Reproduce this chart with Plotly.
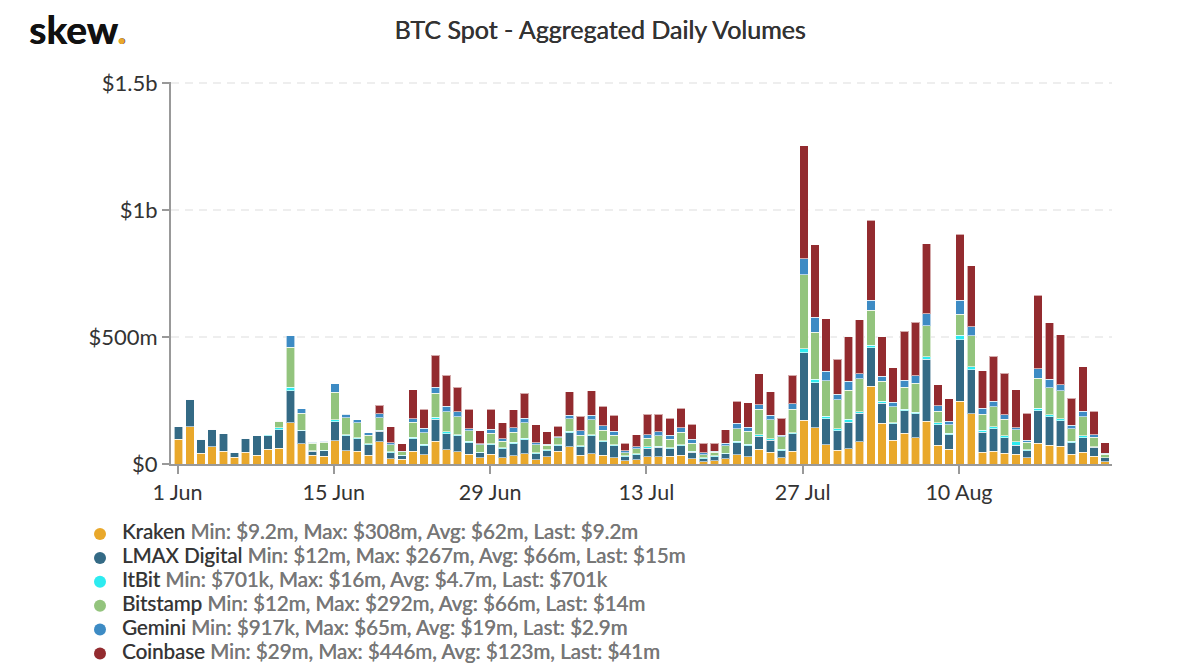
import pandas as pd
import plotly.graph_objs as go

# Daily volumes in $m (0 = exchange not shown yet)
dates = pd.date_range("2020-06-01", periods=84, freq="D")

kraken = [97, 146, 42, 67, 50, 26, 47, 35, 58, 62, 163, 79, 34, 31, 91, 52, 51, 34, 87, 21, 18,
          50, 37, 89, 56, 49, 38, 24, 38, 25, 33, 41, 16, 29, 51, 68, 34, 41, 35, 25, 12, 16,
          28, 28, 30, 35, 20, 9, 12, 20, 37, 29, 59, 47, 24, 51, 173, 143, 75, 55, 60, 87,
          307, 160, 93, 121, 104, 169, 73, 58, 247, 198, 46, 51, 42, 38, 24, 81, 73, 70, 39, 47, 31, 9.2]
lmax = [49, 109, 55, 70, 70, 21, 55, 77, 54, 73, 126, 51, 16, 21, 76, 59, 49, 42, 41, 24, 14,
        50, 35, 87, 63, 63, 46, 20, 38, 35, 47, 55, 25, 24, 21, 55, 34, 71, 52, 47, 17, 21,
        35, 37, 30, 37, 26, 12, 17, 20, 47, 43, 51, 47, 29, 68, 265, 177, 104, 76, 104, 112,
        151, 80, 66, 89, 94, 243, 81, 58, 243, 173, 79, 88, 62, 35, 29, 129, 113, 101, 45, 56, 34, 15]
itbit = [0, 0, 0, 0, 0, 0, 0, 0, 3, 7, 13, 3, 3, 3, 7, 5, 4, 3, 5, 3, 3,
         5, 5, 8, 8, 3, 5, 3, 3, 4, 5, 5, 3, 3, 3, 5, 4, 4, 4, 4, 3, 3,
         4, 4, 4, 3, 4, 3, 3, 3, 5, 5, 5, 5, 5, 5, 16, 14, 9, 7, 12, 7,
         9, 8, 4, 5, 5, 10, 8, 5, 16, 12, 7, 7, 7, 14, 3, 9, 8, 7, 5, 8, 3, 0.7]
bitstamp = [0, 0, 0, 0, 0, 0, 0, 0, 0, 26, 157, 66, 29, 31, 108, 66, 58, 35, 50, 28, 13,
            60, 46, 94, 79, 72, 41, 29, 43, 26, 41, 62, 31, 18, 28, 50, 42, 59, 42, 38, 13, 20,
            35, 42, 34, 51, 31, 13, 14, 29, 49, 52, 100, 76, 49, 91, 291, 185, 139, 114, 115, 129,
            138, 77, 62, 88, 115, 123, 46, 33, 84, 121, 64, 79, 66, 47, 30, 119, 106, 110, 50, 75, 38, 14]
gemini = [0, 0, 0, 0, 0, 0, 0, 0, 0, 0, 45, 18, 4, 4, 34, 14, 12, 9, 14, 7, 3,
          14, 17, 24, 21, 18, 8, 4, 14, 10, 17, 18, 9, 4, 4, 14, 16, 17, 18, 14, 7, 8,
          13, 16, 16, 16, 16, 7, 5, 10, 22, 16, 18, 16, 7, 22, 63, 59, 38, 22, 34, 20,
          39, 21, 18, 26, 30, 47, 21, 14, 54, 37, 24, 22, 17, 9, 8, 38, 33, 24, 14, 22, 10, 2.9]
coinbase = [0, 0, 0, 0, 0, 0, 0, 0, 0, 0, 0, 0, 0, 0, 0, 0, 0, 0, 35, 63, 29,
            113, 76, 126, 123, 97, 77, 51, 79, 62, 70, 98, 71, 49, 41, 92, 59, 96, 77, 63, 29, 47,
            80, 68, 67, 77, 59, 37, 31, 52, 88, 97, 123, 94, 67, 113, 446, 286, 206, 138, 176, 213,
            316, 156, 135, 193, 210, 276, 84, 88, 261, 239, 147, 178, 163, 150, 105, 289, 224, 196, 105, 175, 91, 41]

names = ["Kraken", "LMAX Digital", "ItBit", "Bitstamp", "Gemini", "Coinbase"]
stats = ["Min: $9.2m, Max: $308m, Avg: $62m, Last: $9.2m",
         "Min: $12m, Max: $267m, Avg: $66m, Last: $15m",
         "Min: $701k, Max: $16m, Avg: $4.7m, Last: $701k",
         "Min: $12m, Max: $292m, Avg: $66m, Last: $14m",
         "Min: $917k, Max: $65m, Avg: $19m, Last: $2.9m",
         "Min: $29m, Max: $446m, Avg: $123m, Last: $41m"]
series = [kraken, lmax, itbit, bitstamp, gemini, coinbase]
colors = ["#E9A82B", "#346A85", "#2DEBF0", "#93C47D", "#3D8BC4", "#932B2F"]

x_ticks = ["2020-06-01", "2020-06-15", "2020-06-29", "2020-07-13", "2020-07-27", "2020-08-10"]
x_labels = ["1 Jun", "15 Jun", "29 Jun", "13 Jul", "27 Jul", "10 Aug"]
y_ticks = [0, 500, 1000, 1500]
y_labels = ["$0", "$500m", "$1b", "$1.5b"]

FONT = "Lato, sans-serif"
DAY_MS = 86400000
# the page body has an 8px margin, so the figure is 8px smaller than the window
PLOT_L, PLOT_T, PLOT_W, PLOT_H = 171, 82, 941, 382


def paper_x(px):
    return (px - PLOT_L) / PLOT_W


def paper_y(py):
    return (PLOT_T + PLOT_H - py) / PLOT_H


fig = go.Figure()
for name, values, color in zip(names, series, colors):
    # bars sit about 1px right of their tick in the reference
    fig.add_trace(go.Bar(x=dates, y=values, name=name, marker_color=color,
                         marker_line=dict(color="rgba(255,255,255,0.6)", width=1),
                         width=0.76 * DAY_MS, offset=-0.28 * DAY_MS, showlegend=False))

fig.update_layout(
    width=1192, height=662,
    barmode="stack",
    plot_bgcolor="white", paper_bgcolor="white",
    margin=dict(l=PLOT_L - 8, r=88, t=PLOT_T - 8, b=206, autoexpand=False),
    font=dict(family=FONT, color="#333333"),
    title=dict(text="BTC Spot - Aggregated Daily Volumes", x=592 / 1192, xanchor="center",
               y=1 - 22 / 662, yanchor="middle",
               font=dict(size=25, family=FONT, color="#333333", shadow="0.4px 0 0 #333333")),
    showlegend=False,
)
fig.update_xaxes(range=["2020-05-31 10:00", "2020-08-23 17:00"], tickmode="array",
                 tickvals=x_ticks, ticktext=x_labels, showgrid=False,
                 showline=True, linecolor="#999999", linewidth=2,
                 ticks="outside", ticklen=8, tickwidth=2, tickcolor="#999999",
                 tickfont=dict(size=21.5, family=FONT, color="#333333"))
# a little headroom above 1.5b, otherwise plotly drops the top gridline
fig.update_yaxes(range=[0, 1504], tickmode="array", tickvals=y_ticks, ticktext=y_labels,
                 showgrid=True, gridcolor="#EEEEEE", gridwidth=2, griddash="8px,6px",
                 zeroline=False, showline=True, linecolor="#999999", linewidth=2,
                 ticks="outside", ticklen=7, tickwidth=2, tickcolor="#999999",
                 tickfont=dict(size=22, family=FONT, color="#333333"))

# logo
fig.add_annotation(text="<b>skew</b><span style='color:#E9A82B'><b>.</b></span>",
                   xref="paper", yref="paper", x=paper_x(27), y=paper_y(29),
                   xanchor="left", yanchor="middle", showarrow=False,
                   font=dict(size=39, family=FONT, color="#111111", shadow="0.6px 0 0 #111111"))

# legend has round keys and tight lines, so it is drawn by hand
for i, (name, stat, color) in enumerate(zip(names, stats, colors)):
    ly = 534 + i * 23.9
    fig.add_shape(type="circle", xref="paper", yref="paper", layer="above",
                  x0=paper_x(94), x1=paper_x(106), y0=paper_y(ly + 6), y1=paper_y(ly - 6),
                  fillcolor=color, line_width=0)
    fig.add_annotation(text=f"{name} <span style='color:#777777'>{stat}</span>",
                       xref="paper", yref="paper", x=paper_x(120), y=paper_y(ly - 3),
                       xanchor="left", yanchor="middle", showarrow=False, align="left",
                       font=dict(size=20.5, family=FONT, color="#333333", shadow="0.4px 0 0 #777777"))

fig.write_html("out.html")
